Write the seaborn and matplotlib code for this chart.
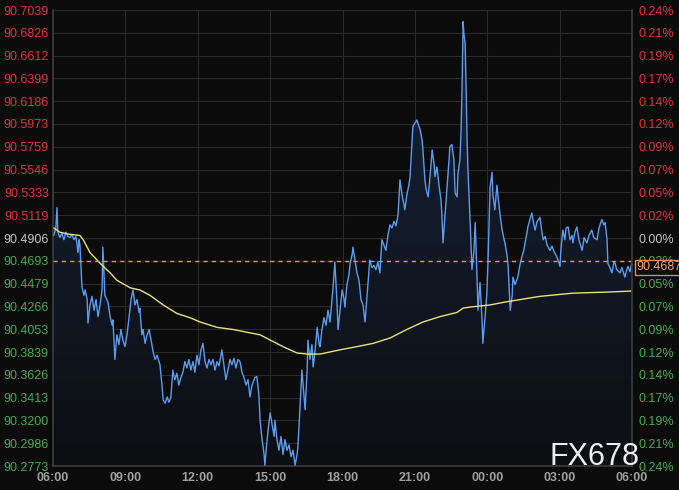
import matplotlib
matplotlib.use("Agg")
import matplotlib.pyplot as plt
import matplotlib.transforms as mtransforms
import numpy as np
import seaborn as sns

# minutes after 06:00 and price of the index
minutes = [
    2, 7, 10, 12, 17, 22, 27, 32, 37, 42, 47, 52, 57, 60, 62, 65, 67, 72, 77, 80,
    85, 87, 92, 97, 102, 107, 112, 117, 122, 124, 127, 129, 134, 137, 142, 147, 149, 154, 159, 164,
    169, 174, 179, 184, 189, 194, 199, 204, 209, 214, 216, 221, 224, 229, 234, 239, 244, 249, 254, 259,
    266, 271, 274, 279, 284, 288, 293, 298, 303, 308, 313, 318, 323, 328, 333, 338, 343, 348, 353, 358,
    363, 368, 373, 378, 383, 388, 393, 398, 403, 408, 413, 420, 425, 430, 435, 440, 445, 450, 455, 460,
    465, 470, 475, 480, 485, 490, 495, 502, 507, 512, 515, 520, 525, 527, 530, 535, 540, 545, 550, 552,
    557, 562, 567, 572, 577, 582, 587, 592, 597, 602, 607, 609, 614, 619, 624, 627, 632, 634, 639, 644,
    647, 652, 657, 662, 664, 669, 674, 679, 684, 689, 694, 696, 701, 706, 709, 714, 719, 724, 726, 731,
    736, 739, 744, 746, 751, 756, 761, 766, 771, 776, 781, 786, 788, 793, 798, 803, 808, 813, 818, 823,
    828, 833, 838, 843, 848, 853, 858, 863, 868, 873, 875, 880, 885, 888, 893, 895, 900, 905, 910, 913,
    918, 920, 925, 928, 933, 938, 943, 948, 950, 955, 960, 965, 967, 970, 975, 980, 985, 987, 992, 997,
    1000, 1005, 1007, 1012, 1015, 1017, 1020, 1022, 1025, 1027, 1030, 1032, 1037, 1042, 1047, 1050, 1054, 1057, 1062, 1067,
    1069, 1074, 1079, 1082, 1087, 1092, 1094, 1099, 1104, 1107, 1112, 1117, 1122, 1124, 1129, 1132, 1137, 1142, 1144, 1149,
    1156, 1161, 1166, 1171, 1174, 1179, 1181, 1186, 1191, 1196, 1199, 1204, 1211, 1216, 1219, 1224, 1229, 1236, 1241, 1246,
    1253, 1258, 1261, 1263, 1268, 1273, 1276, 1281, 1286, 1291, 1293, 1298, 1303, 1308, 1316, 1321, 1328, 1333, 1340, 1345,
    1353, 1358, 1365, 1370, 1373, 1378, 1380, 1385, 1390, 1395, 1398, 1402, 1410, 1415, 1422, 1427, 1430, 1435, 1440,
]
price = [
    90.493, 90.500, 90.519, 90.496, 90.491, 90.495, 90.489, 90.496, 90.492, 90.491, 90.494, 90.489, 90.492, 90.484, 90.477, 90.489, 90.484, 90.445, 90.437, 90.442,
    90.433, 90.411, 90.428, 90.436, 90.423, 90.433, 90.417, 90.428, 90.442, 90.482, 90.456, 90.437, 90.433, 90.430, 90.417, 90.409, 90.414, 90.377, 90.400, 90.391,
    90.405, 90.395, 90.389, 90.400, 90.416, 90.433, 90.442, 90.428, 90.433, 90.421, 90.425, 90.400, 90.405, 90.392, 90.400, 90.405, 90.395, 90.384, 90.377, 90.381,
    90.372, 90.353, 90.339, 90.336, 90.342, 90.337, 90.341, 90.367, 90.358, 90.364, 90.353, 90.360, 90.365, 90.375, 90.369, 90.377, 90.367, 90.375, 90.365, 90.381,
    90.372, 90.386, 90.392, 90.375, 90.369, 90.377, 90.372, 90.377, 90.367, 90.375, 90.371, 90.386, 90.372, 90.358, 90.367, 90.377, 90.372, 90.378, 90.369, 90.377,
    90.375, 90.365, 90.360, 90.353, 90.358, 90.342, 90.353, 90.360, 90.361, 90.344, 90.320, 90.302, 90.288, 90.278, 90.292, 90.311, 90.327, 90.316, 90.305, 90.320,
    90.302, 90.292, 90.305, 90.288, 90.302, 90.292, 90.297, 90.286, 90.292, 90.278, 90.288, 90.295, 90.330, 90.367, 90.344, 90.330, 90.367, 90.395, 90.377, 90.391,
    90.370, 90.386, 90.407, 90.391, 90.389, 90.405, 90.416, 90.409, 90.423, 90.412, 90.433, 90.442, 90.468, 90.433, 90.405, 90.423, 90.442, 90.433, 90.426, 90.447,
    90.456, 90.467, 90.475, 90.482, 90.470, 90.458, 90.451, 90.433, 90.428, 90.412, 90.437, 90.461, 90.470, 90.463, 90.465, 90.461, 90.468, 90.458, 90.489, 90.484,
    90.479, 90.493, 90.503, 90.500, 90.506, 90.502, 90.512, 90.545, 90.531, 90.522, 90.517, 90.531, 90.540, 90.548, 90.582, 90.595, 90.598, 90.601, 90.595, 90.592,
    90.582, 90.573, 90.545, 90.536, 90.529, 90.550, 90.573, 90.559, 90.548, 90.557, 90.540, 90.526, 90.514, 90.486, 90.512, 90.538, 90.564, 90.576, 90.578, 90.564,
    90.533, 90.529, 90.550, 90.564, 90.592, 90.626, 90.693, 90.681, 90.673, 90.639, 90.580, 90.554, 90.510, 90.461, 90.479, 90.505, 90.461, 90.423, 90.449, 90.414,
    90.392, 90.414, 90.439, 90.470, 90.538, 90.552, 90.531, 90.517, 90.540, 90.529, 90.512, 90.498, 90.489, 90.486, 90.475, 90.464, 90.423, 90.437, 90.454, 90.447,
    90.454, 90.465, 90.473, 90.479, 90.486, 90.496, 90.501, 90.508, 90.514, 90.503, 90.498, 90.506, 90.510, 90.496, 90.489, 90.492, 90.484, 90.479, 90.483, 90.478,
    90.473, 90.468, 90.464, 90.479, 90.498, 90.489, 90.500, 90.501, 90.489, 90.493, 90.486, 90.496, 90.501, 90.489, 90.479, 90.491, 90.486, 90.493, 90.498, 90.491,
    90.489, 90.500, 90.508, 90.503, 90.505, 90.489, 90.467, 90.463, 90.458, 90.468, 90.467, 90.461, 90.458, 90.463, 90.454, 90.461, 90.464, 90.459, 90.4687,
]

# moving average (yellow)
ma_minutes = [2, 17, 42, 67, 75, 92, 117, 142, 159, 192, 216, 241, 274, 308, 341, 366, 408, 448, 515, 572,
              607, 632, 664, 714, 756, 796, 838, 880, 920, 962, 1005, 1020, 1037, 1087, 1129, 1211, 1293, 1378, 1440]
ma_price = [90.500, 90.496, 90.494, 90.493, 90.489, 90.477, 90.467, 90.458, 90.451, 90.444, 90.442, 90.437, 90.428,
            90.420, 90.416, 90.412, 90.407, 90.405, 90.400, 90.389, 90.383, 90.382, 90.382, 90.386, 90.389, 90.392,
            90.397, 90.405, 90.412, 90.417, 90.421, 90.425, 90.426, 90.428, 90.431, 90.436, 90.439, 90.440, 90.441]

last_price = 90.4687
base_price = 90.4906

left_labels = ["90.7039", "90.6826", "90.6612", "90.6399", "90.6186", "90.5973", "90.5759",
               "90.5546", "90.5333", "90.5119", "90.4906", "90.4693", "90.4479", "90.4266",
               "90.4053", "90.3839", "90.3626", "90.3413", "90.3200", "90.2986", "90.2773"]
right_labels = ["0.24%", "0.21%", "0.19%", "0.17%", "0.14%", "0.12%", "0.09%", "0.07%", "0.05%",
                "0.02%", "0.00%", "0.02%", "0.05%", "0.07%", "0.09%", "0.12%", "0.14%", "0.17%",
                "0.19%", "0.21%", "0.24%"]
time_labels = ["06:00", "09:00", "12:00", "15:00", "18:00", "21:00", "00:00", "03:00", "06:00"]

bg = "#0b0b0b"
grid_c = "#2a2a2a"
red = "#e0343f"
green = "#45ad4c"
neutral = "#c4c4c4"

sns.set_theme(style="dark", rc={"axes.facecolor": bg, "figure.facecolor": bg})
plt.rcParams["font.family"] = ["Liberation Sans", "DejaVu Sans"]

fig = plt.figure(figsize=(6.79, 4.90), dpi=100)
ax = fig.add_axes([53 / 679, 24 / 490, 579 / 679, 456 / 490])

yticks = [float(s) for s in left_labels]
ymin, ymax = min(yticks), max(yticks)

# gradient fill under the price line
poly = ax.fill_between(minutes, price, ymin, color="none", lw=0)
grad = np.linspace(0, 1, 256).reshape(-1, 1)
cmap = matplotlib.colors.LinearSegmentedColormap.from_list("f", ["#0c0e12", "#17233a"])
img = ax.imshow(grad, cmap=cmap, aspect="auto", origin="lower",
                extent=[0, 1440, ymin, max(price)], zorder=1)
img.set_clip_path(poly.get_paths()[0], transform=ax.transData)

sns.lineplot(x=minutes, y=price, ax=ax, color="#5b9cee", lw=1.0, sort=False,
             estimator=None, zorder=3)
sns.lineplot(x=ma_minutes, y=ma_price, ax=ax, color="#e7e27a", lw=1.0, sort=False,
             estimator=None, zorder=4)
ax.axhline(last_price, color="#dc9a5c", lw=1.0, ls=(0, (3, 3)), zorder=5)

ax.set_xlim(0, 1440)
ax.set_ylim(ymin, ymax)
ax.set_xticks(range(0, 1441, 180))
ax.set_xticklabels(time_labels)
ax.set_yticks(yticks)
ax.set_yticklabels(left_labels)
ax.grid(True, color=grid_c, lw=0.8)
ax.set_axisbelow(True)
for s in ax.spines.values():
    s.set_visible(False)
ax.spines["left"].set_visible(True)
ax.spines["left"].set_color("#3a3a3a")
ax.spines["bottom"].set_visible(True)
ax.spines["bottom"].set_color("#3a3a3a")

ax.tick_params(axis="x", length=0, pad=4, labelsize=9, colors="#a0a0a0")
ax.tick_params(axis="y", length=0, pad=3, labelsize=9)
for lbl in ax.get_xticklabels():
    lbl.set_fontweight("bold")

ax2 = ax.twinx()
ax2.set_ylim(ymin, ymax)
ax2.set_yticks(yticks)
ax2.set_yticklabels(right_labels)
ax2.tick_params(axis="y", length=0, pad=5, labelsize=9)
ax2.grid(False)
for s in ax2.spines.values():
    s.set_visible(False)
ax2.spines["right"].set_visible(True)
ax2.spines["right"].set_color("#3a3a3a")

for t, l1, l2 in zip(yticks, ax.get_yticklabels(), ax2.get_yticklabels()):
    if abs(t - base_price) < 1e-6:
        c = neutral
    elif t > base_price:
        c = red
    else:
        c = green
    l1.set_color(c)
    l2.set_color(c)

# last price tag
trans = mtransforms.blended_transform_factory(ax2.transAxes, ax2.transData)
ax2.text(1.008, last_price, "90.4687", transform=trans, ha="left", va="top",
         fontsize=9, color="#f2a46c", zorder=10, clip_on=False,
         bbox=dict(boxstyle="square,pad=0.15", fc=bg, ec="#e48a5c", lw=1))

fig.text(550 / 679, 1 - 465 / 490, "FX678", fontsize=22, color="#eeeeee",
         ha="left", va="baseline")

fig.savefig("out.png", dpi=100, facecolor=bg)
